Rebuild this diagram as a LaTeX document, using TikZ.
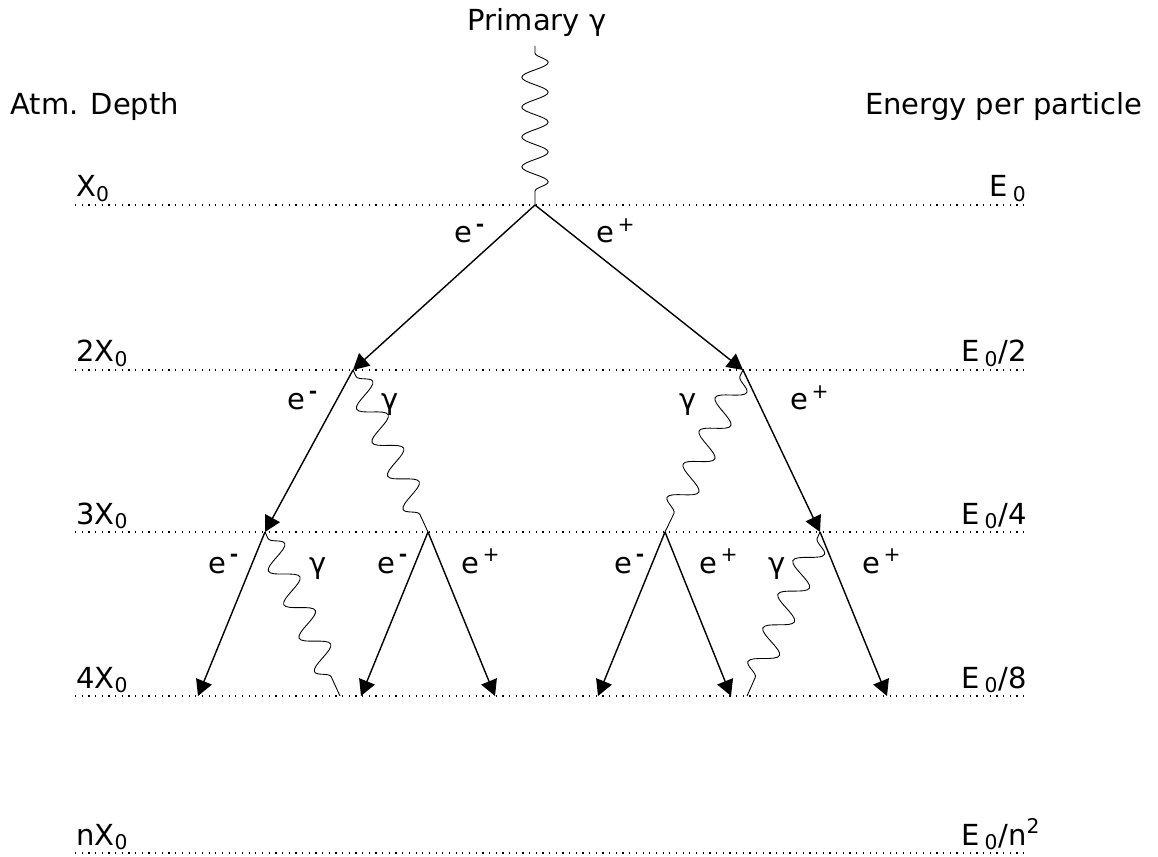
\documentclass[tikz,border=0pt]{standalone}
\usepackage{fontspec}
\setmainfont{DejaVu Sans}
\usetikzlibrary{arrows.meta,decorations.pathmorphing,positioning}

\newcommand{\elec}{e\textsuperscript{\,\textbf{-}}}
\newcommand{\posi}{e\textsuperscript{\,+}}
\newcommand{\Ez}{E\,\textsubscript{0}}

\begin{document}
\begin{tikzpicture}[x=0.02cm, y=-0.02cm, font=\fontsize{16.5}{20}\selectfont,
depth/.style={line width=0.6pt, dash pattern=on 0.7pt off 3.1pt},
lepton/.style={line width=0.8pt, -{Triangle[length=9pt, width=9.5pt]}},
photon/.style={line width=0.5pt, decorate, decoration={snake, amplitude=7.5pt, segment length=21pt, pre length=4pt, post length=4pt}},
primary/.style={photon, decoration={amplitude=7.5pt, segment length=17pt}},
lab/.style={anchor=base, inner sep=0pt}]
    \useasboundingbox (0,0) rectangle (1158,857);

    % depth levels
    \foreach \y/\d/\e in {205/{X\textsubscript{0}}/{\Ez},
                          370/{2X\textsubscript{0}}/{\Ez/2},
                          532/{3X\textsubscript{0}}/{\Ez/4},
                          696/{4X\textsubscript{0}}/{\Ez/8},
                          853/{nX\textsubscript{0}}/{\Ez/n\rlap{\textsuperscript{2}}}} {
        \draw[depth] (75,\y) -- (1025,\y);
        \node[anchor=base west, inner sep=0pt] at (76,\y-8) {\d};
        \node[anchor=base east, inner sep=0pt] at (1027,\y-8) {\e};
    }
    \node[anchor=base west, inner sep=0pt] (depthlbl) at (10,115) {Atm. Depth};
    \node[anchor=base east, inner sep=0pt] (energylbl) at (1143,115) {Energy per particle};
    \node[lab] (prim) at (537,31) {Primary γ};

    % vertices
    \coordinate (v0) at (535,205);
    \coordinate (vl) at (353,370);
    \coordinate (vr) at (743,370);
    \coordinate (va) at (265,532);
    \coordinate (vb) at (428,532);
    \coordinate (vc) at (665,532);
    \coordinate (vd) at (820,532);
    \coordinate (ps) at (535,46);
    % ends on 4X0
    \coordinate (ea1) at (198,696);
    \coordinate (ea2) at (340,696);
    \coordinate (eb1) at (361,696);
    \coordinate (eb2) at (495,696);
    \coordinate (ec1) at (598,696);
    \coordinate (ec2) at (731,696);
    \coordinate (ed1) at (747,696);
    \coordinate (ed2) at (887,696);

    \draw[primary] (ps) -- (v0);
    \draw[lepton] (v0) -- (vl);
    \draw[lepton] (v0) -- (vr);
    \draw[lepton] (vl) -- (va);
    \draw[photon] (vl) -- (vb);
    \draw[photon] (vr) -- (vc);
    \draw[lepton] (vr) -- (vd);
    \draw[lepton] (va) -- (ea1);
    \draw[photon] (va) -- (ea2);
    \draw[lepton] (vb) -- (eb1);
    \draw[lepton] (vb) -- (eb2);
    \draw[lepton] (vc) -- (ec1);
    \draw[lepton] (vc) -- (ec2);
    \draw[photon] (vd) -- (ed1);
    \draw[lepton] (vd) -- (ed2);

    % particle labels
    \node[lab] (l1) at (470,243) {\elec};
    \node[lab] (l2) at (616,243) {\posi};
    \node[lab] (l3) at (303,410) {\elec};
    \node[lab] (l4) at (390,410) {γ};
    \node[lab] (l5) at (688,410) {γ};
    \node[lab] (l6) at (810,410) {\posi};
    \node[lab] (l7) at (224,573) {\elec};
    \node[lab] (l8) at (318,573) {γ};
    \node[lab] (l9) at (393,573) {\elec};
    \node[lab] (l10) at (481,573) {\posi};
    \node[lab] (l11) at (630,573) {\elec};
    \node[lab] (l12) at (719,573) {\posi};
    \node[lab] (l13) at (777,573) {γ};
    \node[lab] (l14) at (882,573) {\posi};
\end{tikzpicture}
\end{document}
